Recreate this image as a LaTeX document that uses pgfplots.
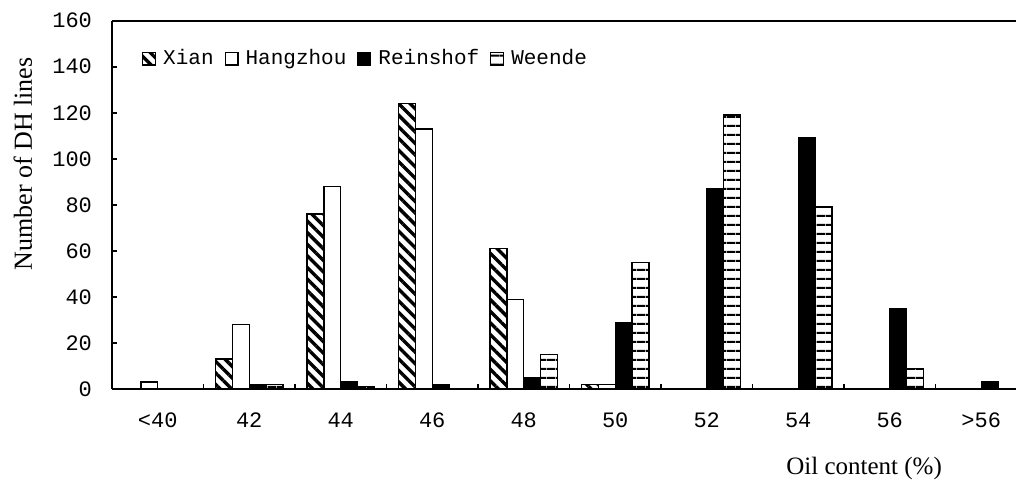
\documentclass[border=0pt]{standalone}
\usepackage{fontspec}
\setmainfont{Liberation Serif}
\newfontfamily\mono{Liberation Mono}
\usepackage{pgfplots}
\pgfplotsset{compat=1.18}
\usetikzlibrary{patterns.meta}
\begin{document}
\begin{tikzpicture}
\begin{axis}[
  at={(56pt,46.5pt)}, anchor=south west,
  scale only axis, width=452pt, height=184.15pt,
  xmin=-0.5, xmax=9.38, ymin=0, ymax=160,
  axis x line=box, axis y line=left,
  axis line style={-, line width=0.9pt},
  ybar, bar width=0.185,
  ytick={0,20,...,160}, ytick pos=left,
  xtick={0.5,1.5,...,8.5}, xticklabels={}, xtick pos=bottom,
  extra x ticks={0,1,...,9},
  extra x tick labels={{<40},42,44,46,48,50,52,54,56,{>56}},
  extra x tick style={major tick length=0pt},
  tick align=inside, major tick length=2.5pt,
  tick style={line width=0.8pt, black},
  /pgf/number format/assume math mode=true,
  ticklabel style={font=\fontsize{11}{13}\selectfont\mono},
  yticklabel style={xshift=-6.5pt},
  xticklabel style={yshift=-8.5pt},
  xlabel={Oil content (\%)},
  ylabel={Number of DH lines},
  every axis x label/.style={at={(axis description cs:0.832,-0.217)}, anchor=center, font=\fontsize{12.5}{14}\selectfont},
  every axis y label/.style={at={(axis description cs:-0.0985,0.611)}, rotate=90, anchor=center, font=\fontsize{13}{15}\selectfont},
  legend columns=4,
  legend style={draw=none, fill=none, at={(axis description cs:0.033,0.897)}, anchor=west, inner sep=0pt,
    font=\fontsize{10.5}{12}\selectfont\mono,
    /tikz/every even column/.append style={column sep=3.5pt},
    /tikz/every odd column/.append style={column sep=1.5pt}},
  legend image code/.code={\draw[#1, line width=0.6pt] (0pt,-3.2pt) rectangle (6.4pt,3.2pt);},
]
\addplot[draw=black, line width=0.7pt, pattern={Lines[angle=-45,distance=4.1pt,line width=1.7pt]}, bar shift=-0.2775]
  coordinates {(0,0) (1,13) (2,76) (3,124) (4,61) (5,2) (6,0) (7,0) (8,0) (9,0)};
\addplot[draw=black, line width=0.7pt, fill=white, bar shift=-0.0925]
  coordinates {(0,3) (1,28) (2,88) (3,113) (4,39) (5,2) (6,0) (7,0) (8,0) (9,0)};
\addplot[draw=black, line width=0.7pt, fill=black, bar shift=0.0925]
  coordinates {(0,0) (1,2) (2,3) (3,2) (4,5) (5,29) (6,87) (7,109) (8,35) (9,3)};
\addplot[draw=black, line width=0.7pt, pattern={Lines[angle=0,distance=4.35pt,line width=1pt]}, bar shift=0.2775]
  coordinates {(0,0) (1,2) (2,1) (3,0) (4,15) (5,55) (6,119) (7,79) (8,9) (9,0)};
\legend{Xian,Hangzhou,Reinshof,Weende}
\end{axis}
\pgfresetboundingbox
\path (0,0) rectangle (508pt,241pt);
\end{tikzpicture}
\end{document}
